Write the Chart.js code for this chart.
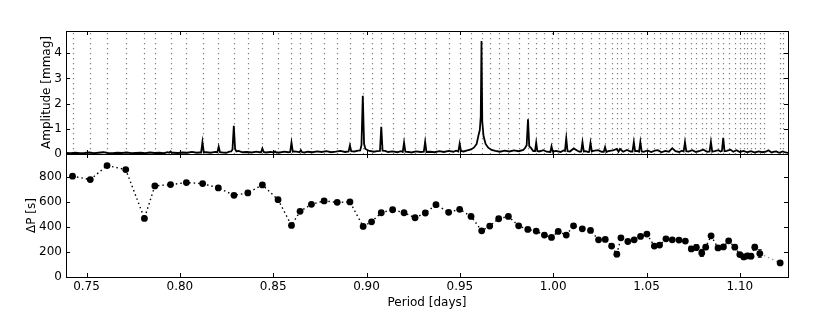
<!DOCTYPE html>
<html>
<head>
<meta charset="utf-8">
<script src="https://cdn.jsdelivr.net/npm/chart.js@4"></script>
<style>
  body { margin: 0; background: #fff; }
</style>
</head>
<body>
<canvas id="myChart" width="830" height="312"></canvas>
<script>
// mode periods [days] and period spacings [s]
const periods = [
  0.7425, 0.752, 0.761, 0.771, 0.781, 0.7866, 0.795, 0.8035, 0.8122, 0.8206,
  0.829, 0.8364, 0.8442, 0.8526, 0.8598, 0.8644, 0.8705, 0.8773, 0.8843, 0.8911,
  0.8982, 0.9027, 0.9079, 0.914, 0.9201, 0.926, 0.9315, 0.9372, 0.944, 0.9499,
  0.956, 0.9617, 0.966, 0.9708, 0.976, 0.9815, 0.9864, 0.9909, 0.9953, 0.9991,
  1.0027, 1.007, 1.0109, 1.0156, 1.02, 1.0243, 1.0279, 1.0313, 1.0341, 1.0363,
  1.04, 1.0434, 1.0468, 1.0502, 1.0542, 1.057, 1.0604, 1.0638, 1.0674, 1.0708,
  1.074, 1.0767, 1.0796, 1.0817, 1.0846, 1.0883, 1.0912, 1.094, 1.0973, 1.1,
  1.1021, 1.1041, 1.106, 1.108, 1.1107, 1.1216
];
const deltaP = [
  803, 776, 888, 856, 467, 726, 736, 752, 744, 710,
  651, 670, 734, 616, 411, 523, 579, 606, 595, 598,
  403, 440, 512, 536, 512, 472, 510, 576, 515, 539,
  483, 368, 406, 464, 483, 408, 379, 366, 334, 315,
  363, 334, 408, 384, 371, 296, 299, 246, 182, 312,
  283, 296, 323, 342, 246, 254, 304, 296, 294, 286,
  224, 235, 192, 238, 328, 232, 240, 288, 238, 179,
  160, 168, 166, 238, 187, 112
];
const deltaPErr = [
  8, 8, 8, 8, 8, 8, 8, 8, 8, 8,
  8, 8, 8, 8, 8, 8, 8, 8, 8, 8,
  8, 8, 8, 8, 8, 8, 8, 8, 8, 8,
  8, 8, 8, 8, 8, 8, 8, 8, 10, 10,
  10, 10, 10, 10, 10, 10, 10, 12, 20, 12,
  12, 12, 12, 12, 12, 14, 12, 12, 12, 12,
  16, 22, 28, 16, 14, 18, 14, 14, 14, 15,
  20, 20, 20, 22, 30, 18
];
// extra mode periods that only show as grid lines
const extraModes = [1.1129, 1.1229];

// tick values
const periodTicks = [0.75, 0.80, 0.85, 0.90, 0.95, 1.00, 1.05, 1.10];
const ampTicks = [0, 1, 2, 3, 4];
const dpTicks = [0, 200, 400, 600, 800];

// periodogram: noise floor and peaks [period, amplitude mmag]
const noiseFloor = [
  [0.7390,0.04],[0.7415,0.03],[0.7440,0.05],[0.7465,0.03],[0.7490,0.04],[0.7515,0.06],
  [0.7540,0.03],[0.7565,0.05],[0.7590,0.07],[0.7615,0.04],[0.7640,0.03],[0.7665,0.05],
  [0.7690,0.04],[0.7715,0.06],[0.7740,0.03],[0.7765,0.04],[0.7790,0.05],[0.7815,0.03],
  [0.7840,0.06],[0.7865,0.04],[0.7890,0.05],[0.7915,0.03],[0.7935,0.07],[0.7965,0.05],
  [0.7990,0.04],[0.8015,0.06],[0.8040,0.05],[0.8065,0.08],[0.8090,0.05],[0.8105,0.06],
  [0.8140,0.07],[0.8165,0.05],[0.8190,0.08],[0.8230,0.06],[0.8250,0.05],[0.8265,0.09],
  [0.8315,0.12],[0.8335,0.07],[0.8360,0.08],[0.8385,0.06],[0.8410,0.09],[0.8425,0.07],
  [0.8460,0.06],[0.8485,0.08],[0.8535,0.06],[0.8560,0.09],[0.8580,0.07],[0.8615,0.10],
  [0.8632,0.08],[0.8668,0.06],[0.8685,0.09],[0.8710,0.07],[0.8735,0.10],[0.8760,0.08],
  [0.8785,0.11],[0.8810,0.07],[0.8835,0.09],[0.8860,0.12],[0.8885,0.08],[0.8935,0.10],
  [0.8955,0.13],[0.9015,0.12],[0.9040,0.09],[0.9055,0.11],[0.9100,0.12],[0.9115,0.08],
  [0.9140,0.10],[0.9165,0.07],[0.9185,0.11],[0.9225,0.08],[0.9240,0.06],[0.9265,0.10],
  [0.9290,0.08],[0.9340,0.09],[0.9365,0.07],[0.9390,0.11],[0.9415,0.08],[0.9440,0.12],
  [0.9465,0.09],[0.9480,0.13],[0.9520,0.10],[0.9540,0.14],[0.9690,0.12],[0.9715,0.09],
  [0.9740,0.13],[0.9765,0.10],[0.9790,0.14],[0.9815,0.11],[0.9840,0.16],[0.9850,0.25],
  [0.9880,0.25],[0.9893,0.12],[0.9925,0.10],[0.9940,0.13],[0.9965,0.09],[1.0015,0.12],
  [1.0040,0.08],[1.0055,0.14],[1.0090,0.10],[1.0130,0.13],[1.0143,0.09],[1.0175,0.11],
  [1.0187,0.08],[1.0215,0.12],[1.0240,0.15],[1.0260,0.09],[1.0295,0.11],[1.0320,0.14],
  [1.0375,0.09],[1.0395,0.16],[1.0415,0.10],[1.0450,0.12],[1.0485,0.09],[1.0505,0.14],
  [1.0525,0.08],[1.0545,0.13],[1.0580,0.07],[1.0600,0.12],[1.0620,0.09],[1.0655,0.11],
  [1.0675,0.08],[1.0690,0.13],[1.0725,0.10],[1.0745,0.15],[1.0765,0.08],[1.0785,0.12],
  [1.0805,0.17],[1.0825,0.09],[1.0865,0.11],[1.0885,0.15],[1.0897,0.10],[1.0930,0.12],
  [1.0950,0.17],[1.0965,0.09],[1.1000,0.08],[1.1020,0.12],[1.1040,0.07],[1.1060,0.11],
  [1.1080,0.06],[1.1100,0.10],[1.1120,0.07],[1.1140,0.09],[1.1170,0.06],[1.1185,0.09],
  [1.1210,0.05],[1.1245,0.06],[1.1260,0.04]
];
const peaks = [
  [0.7943,0.05],[0.7950,0.10],[0.7957,0.05],
  [0.8114,0.06],[0.8121,0.47],[0.8128,0.07],
  [0.8201,0.07],[0.8208,0.29],[0.8215,0.07],
  [0.8275,0.10],[0.8282,0.18],[0.8289,1.12],[0.8296,0.20],[0.8303,0.10],
  [0.8435,0.07],[0.8442,0.22],[0.8449,0.08],
  [0.8503,0.06],[0.8510,0.10],[0.8517,0.06],
  [0.8591,0.08],[0.8598,0.45],[0.8605,0.09],
  [0.8641,0.07],[0.8648,0.15],[0.8655,0.07],
  [0.8904,0.10],[0.8911,0.34],[0.8918,0.11],
  [0.8966,0.14],[0.8973,0.35],[0.8980,2.31],[0.8987,0.40],[0.8994,0.20],
  [0.9072,0.12],[0.9079,1.08],[0.9086,0.13],
  [0.9194,0.08],[0.9201,0.45],[0.9208,0.09],
  [0.9307,0.09],[0.9314,0.48],[0.9321,0.08],
  [0.9492,0.10],[0.9499,0.41],[0.9506,0.12],
  [0.9560,0.18],[0.9575,0.25],[0.9590,0.40],[0.9600,0.75],[0.9607,0.95],[0.9612,1.50],
  [0.9616,4.48],[0.9620,1.30],[0.9627,0.70],[0.9638,0.40],[0.9652,0.25],[0.9670,0.16],
  [0.9858,0.35],[0.9865,1.38],[0.9872,0.30],
  [0.9903,0.12],[0.9909,0.45],[0.9915,0.12],
  [0.9948,0.15],
  [0.9985,0.08],[0.9991,0.30],[0.9998,0.09],
  [1.0063,0.12],[1.0070,0.62],[1.0077,0.11],
  [1.0110,0.22],
  [1.0150,0.10],[1.0157,0.47],[1.0164,0.10],
  [1.0193,0.09],[1.0200,0.44],[1.0207,0.10],
  [1.0271,0.09],[1.0278,0.27],[1.0285,0.08],
  [1.0341,0.20],[1.0350,0.09],[1.0358,0.20],
  [1.0425,0.10],[1.0432,0.47],[1.0439,0.11],
  [1.0460,0.09],[1.0467,0.47],[1.0474,0.10],
  [1.0561,0.15],
  [1.0638,0.23],
  [1.0699,0.10],[1.0706,0.47],[1.0713,0.11],
  [1.0838,0.10],[1.0845,0.48],[1.0852,0.09],
  [1.0904,0.12],[1.0911,0.64],[1.0918,0.11],
  [1.0982,0.15],
  [1.1153,0.15],
  [1.1196,0.10],
  [1.1230,0.10]
];

const spectrum = noiseFloor.concat(peaks).sort((a, b) => a[0] - b[0]);
const gridPeriods = periods.concat(extraModes);

Chart.defaults.font.family = "'DejaVu Sans', sans-serif";
Chart.defaults.font.size = 12;
Chart.defaults.color = "#000";

const setTicks = vals => s => { s.ticks = vals.map(v => ({value: v})); };

// matplotlib-like frames, inward ticks, mode lines and error bars
const panels = {
  id: "panels",
  beforeDatasetsDraw(chart) {
    const {ctx, scales: {x, yA, yP}} = chart;
    ctx.save();
    ctx.strokeStyle = "#808080";
    ctx.lineWidth = 1.2;
    ctx.setLineDash([1.3, 3.7]);
    gridPeriods.forEach(p => {
      const px = Math.round(x.getPixelForValue(p)) + 0.5;
      ctx.beginPath();
      ctx.moveTo(px, yA.top + 2);
      ctx.lineTo(px, yA.bottom);
      ctx.stroke();
    });
    ctx.setLineDash([]);
    ctx.strokeStyle = "#000";
    ctx.lineWidth = 1;
    periods.forEach((p, i) => {
      const px = x.getPixelForValue(p);
      const lo = yP.getPixelForValue(deltaP[i] - deltaPErr[i]);
      const hi = yP.getPixelForValue(deltaP[i] + deltaPErr[i]);
      ctx.beginPath();
      ctx.moveTo(px, lo); ctx.lineTo(px, hi);
      ctx.moveTo(px - 2, lo); ctx.lineTo(px + 2, lo);
      ctx.moveTo(px - 2, hi); ctx.lineTo(px + 2, hi);
      ctx.stroke();
    });
    ctx.restore();
  },
  afterDraw(chart) {
    const {ctx, chartArea, scales: {x, yA, yP}} = chart;
    const l = chartArea.left, r = chartArea.right;
    ctx.save();
    ctx.strokeStyle = "#000";
    ctx.lineWidth = 1;
    [yA, yP].forEach(ys => {
      ctx.strokeRect(l + 0.5, ys.top + 0.5, r - l, ys.bottom - ys.top);
      ctx.beginPath();
      x.ticks.forEach(t => {
        const px = Math.round(x.getPixelForValue(t.value)) + 0.5;
        ctx.moveTo(px, ys.bottom); ctx.lineTo(px, ys.bottom - 4);
        ctx.moveTo(px, ys.top); ctx.lineTo(px, ys.top + 4);
      });
      ys.ticks.forEach(t => {
        const py = Math.round(ys.getPixelForValue(t.value)) + 0.5;
        ctx.moveTo(l, py); ctx.lineTo(l + 4, py);
        ctx.moveTo(r, py); ctx.lineTo(r - 4, py);
      });
      ctx.stroke();
    });
    ctx.restore();
  }
};

const lastIdx = periods.length - 1;

new Chart(document.getElementById("myChart"), {
  type: "line",
  data: {
    datasets: [
      {
        label: "Periodogram",
        data: spectrum.map(d => ({x: d[0], y: d[1]})),
        yAxisID: "yA",
        borderColor: "#000",
        borderWidth: 1.8,
        pointRadius: 0,
        tension: 0,
        fill: false
      },
      {
        label: "Period spacing",
        data: periods.map((p, i) => ({x: p, y: deltaP[i]})),
        yAxisID: "yP",
        borderColor: "#000",
        borderWidth: 1.4,
        borderDash: [1.5, 3],
        pointRadius: 3.4,
        pointBackgroundColor: "#000",
        pointBorderColor: "#000",
        pointBorderWidth: 0,
        tension: 0,
        fill: false,
        segment: {
          borderColor: c => c.p1DataIndex === lastIdx ? "#9a9a9a" : "#000"
        }
      }
    ]
  },
  options: {
    responsive: false,
    animation: false,
    devicePixelRatio: 1,
    layout: { padding: { top: 31, right: 42, left: 0, bottom: 2 } },
    plugins: { legend: { display: false }, tooltip: { enabled: false } },
    scales: {
      x: {
        type: "linear",
        min: 0.739,
        max: 1.1258,
        grid: { display: false, drawTicks: false },
        border: { display: false },
        afterBuildTicks: setTicks(periodTicks),
        ticks: { padding: 3, callback: v => v.toFixed(2) },
        title: { display: true, text: "Period [days]", padding: { top: 2, bottom: 0 } },
        afterFit: s => { s.height = 33; }
      },
      yP: {
        type: "linear",
        position: "left",
        stack: "panels",
        stackWeight: 1,
        weight: 0,
        min: 0,
        max: 980,
        grid: { display: false, drawTicks: false },
        border: { display: false },
        afterBuildTicks: setTicks(dpTicks),
        ticks: { padding: 4 },
        title: { display: true, text: "ΔP [s]", padding: { top: 25, bottom: 0 } },
        afterFit: s => { s.width = 66; }
      },
      yA: {
        type: "linear",
        position: "left",
        stack: "panels",
        stackWeight: 1,
        weight: 1,
        min: 0,
        max: 4.88,
        grid: { display: false, drawTicks: false },
        border: { display: false },
        afterBuildTicks: setTicks(ampTicks),
        ticks: { padding: 4 },
        title: { display: true, text: "Amplitude [mmag]", padding: { top: 40, bottom: 0 } },
        afterFit: s => { s.width = 66; }
      }
    }
  },
  plugins: [panels]
});
</script>
</body>
</html>
